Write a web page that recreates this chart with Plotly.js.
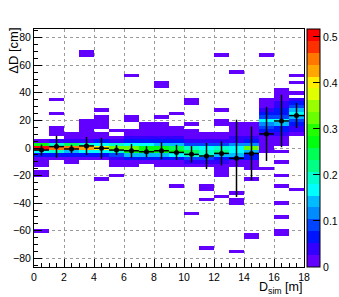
<!DOCTYPE html>
<html><head><meta charset="utf-8">
<script src="https://cdn.plot.ly/plotly-3.0.1.min.js"></script>
<style>html,body{margin:0;padding:0;background:#fff}</style>
</head><body><div id="chart" style="width:339px;height:297px"></div>
<script>
// x bins (D_sim, m): bin centers
const binCentersX = [0.5,1.5,2.5,3.5,4.5,5.5,6.5,7.5,8.5,9.5,10.5,11.5,12.5,13.5,14.5,15.5,16.5,17.5];
// 2D histogram cells as runs: column index, upper/lower bin centre (cm), normalised content
const tileCol = [
 0,0,0,0,0,0,0,0,
 1,1,1,1,1,1,1,1,1,
 2,2,2,2,2,2,2,
 3,3,3,3,3,3,3,3,
 4,4,4,4,4,4,4,4,4,4,
 5,5,5,5,5,5,5,5,5,5,
 6,6,6,6,6,6,6,6,6,6,6,
 7,7,7,7,7,7,7,7,7,
 8,8,8,8,8,8,8,8,8,8,8,
 9,9,9,9,9,9,9,9,9,9,9,
 10,10,10,10,10,10,10,10,10,10,10,10,
 11,11,11,11,11,11,11,11,11,11,11,11,
 12,12,12,12,12,12,12,12,12,12,12,12,12,
 13,13,13,13,13,13,13,13,13,13,13,13,13,
 14,14,14,14,14,14,14,14,14,14,
 15,15,15,15,15,15,15,15,15,15,15,15,
 16,16,16,16,16,16,16,16,16,16,16,16,16,16,16,16,
 17,17,17,17,17,17,17,17,17,17,17,17,17,17
];
const tileYHigh = [
 5,2.5,0,-2.5,-5,-7.5,-17.5,-60,
 35,25,15,5,2.5,0,-2.5,-5,-7.5,
 10,5,2.5,0,-2.5,-5,-7.5,
 70,20,5,2.5,0,-2.5,-5,-7.5,
 27.5,22.5,10,5,2.5,0,-2.5,-5,-7.5,-22.5,
 12.5,7.5,5,2.5,0,-2.5,-5,-7.5,-10,-20,
 52.5,22.5,12.5,7.5,5,2.5,0,-2.5,-5,-7.5,-10,
 17.5,7.5,5,2.5,0,-2.5,-5,-7.5,-10,
 47.5,22.5,17.5,7.5,5,2.5,0,-2.5,-5,-7.5,-10,
 25,15,7.5,5,2.5,0,-2.5,-5,-7.5,-10,-27.5,
 35,17.5,12.5,5,2.5,0,-2.5,-5,-7.5,-10,-12.5,-47.5,
 10,5,2.5,0,-2.5,-5,-7.5,-10,-12.5,-27.5,-37.5,-72.5,
 67.5,27.5,20,10,5,2.5,0,-2.5,-5,-7.5,-10,-12.5,-35,
 55,17.5,7.5,5,2.5,0,-2.5,-5,-7.5,-10,-32.5,-37.5,-75,
 17.5,7.5,5,2.5,0,-2.5,-5,-10,-22.5,-62.5,
 67.5,35,27.5,25,22.5,20,17.5,15,12.5,10,7.5,-15,
 42.5,32.5,27.5,22.5,20,17.5,15,10,7.5,-2.5,-10,-20,-27.5,-40,-50,-60,
 52.5,47.5,40,35,32.5,30,27.5,25,22.5,20,17.5,15,10,-30
];
const tileYLow = [
 5,2.5,0,-2.5,-5,-12.5,-20,-60,
 35,25,10,5,2.5,0,-2.5,-5,-7.5,
 7.5,5,2.5,0,-2.5,-5,-10,
 67.5,7.5,5,2.5,0,-2.5,-5,-7.5,
 27.5,15,7.5,5,2.5,0,-2.5,-5,-7.5,-22.5,
 12.5,7.5,5,2.5,0,-2.5,-5,-7.5,-12.5,-20,
 52.5,20,10,7.5,5,2.5,0,-2.5,-5,-7.5,-12.5,
 10,7.5,5,2.5,0,-2.5,-5,-7.5,-10,
 45,22.5,10,7.5,5,2.5,0,-2.5,-5,-7.5,-12.5,
 25,10,7.5,5,2.5,0,-2.5,-5,-7.5,-12.5,-27.5,
 32.5,17.5,7.5,5,2.5,0,-2.5,-5,-7.5,-10,-12.5,-47.5,
 7.5,5,2.5,0,-2.5,-5,-7.5,-10,-12.5,-30,-37.5,-72.5,
 67.5,27.5,17.5,7.5,5,2.5,0,-2.5,-5,-7.5,-10,-20,-35,
 55,10,7.5,5,2.5,0,-2.5,-5,-7.5,-12.5,-32.5,-40,-75,
 10,7.5,5,2.5,0,-2.5,-7.5,-15,-22.5,-65,
 67.5,30,27.5,25,22.5,20,17.5,15,12.5,10,-2.5,-15,
 35,30,25,22.5,20,17.5,12.5,10,2.5,-2.5,-10,-20,-27.5,-40,-50,-62.5,
 52.5,47.5,40,35,32.5,30,27.5,25,22.5,20,17.5,12.5,10,-30
];
const tileZ = [
 0.02,0.27,0.51,0.17,0.07,0.015,0.015,0.015,
 0.015,0.015,0.015,0.04,0.2,0.44,0.2,0.06,0.015,
 0.015,0.04,0.25,0.45,0.15,0.06,0.015,
 0.015,0.015,0.05,0.2,0.43,0.17,0.06,0.015,
 0.015,0.015,0.015,0.06,0.17,0.40,0.17,0.06,0.015,0.015,
 0.015,0.015,0.05,0.2,0.33,0.2,0.08,0.03,0.015,0.015,
 0.015,0.015,0.015,0.03,0.07,0.16,0.33,0.26,0.14,0.06,0.015,
 0.015,0.03,0.07,0.17,0.28,0.27,0.15,0.06,0.015,
 0.015,0.015,0.015,0.03,0.07,0.14,0.28,0.27,0.15,0.07,0.015,
 0.015,0.015,0.03,0.06,0.13,0.25,0.27,0.17,0.07,0.015,0.015,
 0.015,0.015,0.015,0.04,0.1,0.19,0.24,0.2,0.09,0.03,0.015,0.015,
 0.015,0.05,0.1,0.17,0.2,0.19,0.1,0.04,0.015,0.015,0.015,0.015,
 0.015,0.015,0.015,0.015,0.05,0.1,0.19,0.22,0.15,0.07,0.03,0.015,0.015,
 0.015,0.015,0.03,0.05,0.12,0.17,0.17,0.14,0.06,0.015,0.015,0.015,0.015,
 0.015,0.03,0.06,0.12,0.33,0.14,0.06,0.015,0.015,0.015,
 0.015,0.015,0.04,0.06,0.09,0.16,0.12,0.08,0.06,0.04,0.015,0.015,
 0.015,0.03,0.06,0.1,0.18,0.14,0.07,0.03,0.015,0.015,0.015,0.015,0.015,0.015,0.015,0.015,
 0.015,0.015,0.015,0.03,0.06,0.1,0.15,0.18,0.15,0.1,0.06,0.03,0.015,0.015
];
// profile (mean and error bar) per x bin
const profileMean = [-1.5,1.0,-0.7,1.5,-0.2,-1.5,-2.0,-2.7,-2.0,-3.2,-4.6,-5.8,-3.9,-7.5,-3.9,10.2,19.6,23.5];
const profileErr  = [4,8,3,6.5,7.6,3.6,5,4,6.2,5.5,6,9.5,8.8,28,19.5,19.6,19,9];
const zTickVals = [0,0.1,0.2,0.3,0.4,0.5];
const zTickText = ['0','0.1','0.2','0.3','0.4','0.5'];

// ROOT "pretty" palette, 20 contour levels
const levelColors = ['#6200ff','#3300ff','#0014ff','#0044ff','#008bff','#00bbff','#00fffc','#00ffcc','#00ff85','#00ff55',
  '#00ff0e','#22ff00','#69ff00','#99ff00','#e0ff00','#ffee00','#ffa700','#ff7700','#ff3000','#ff0000'];
const colorscale = [];
levelColors.forEach((c,k)=>{colorscale.push([k/20,c]);colorscale.push([(k+1)/20,c]);});

const yBinWidth = 2.5, yLowest = -85, nY = 69;
const yCenters = [];
for (let i=0;i<nY;i++) yCenters.push(yLowest + i*yBinWidth);
const z = yCenters.map(()=>binCentersX.map(()=>null));
for (let t=0;t<tileCol.length;t++){
  for (let y=tileYLow[t]; y<=tileYHigh[t]+1e-6; y+=yBinWidth){
    const r = Math.round((y - yLowest)/yBinWidth);
    z[r][tileCol[t]] = tileZ[t];
  }
}
const FONT = 'Liberation Sans, Arial, Helvetica, sans-serif';
const heat = {
  type:'heatmap', x:binCentersX, y:yCenters, z:z, zmin:0, zmax:0.517,
  colorscale:colorscale, hoverinfo:'skip', zsmooth:false,
  colorbar:{thickness:13, thicknessmode:'pixels', len:1, lenmode:'fraction',
    x:1.011, xanchor:'left', xpad:0, y:0.5, yanchor:'middle', ypad:0,
    outlinewidth:1, outlinecolor:'black', ticks:'inside', ticklen:7, tickcolor:'black',
    tickvals:zTickVals, ticktext:zTickText, tickfont:{family:FONT,size:10.5,color:'black'}}
};
const prof = {
  type:'scatter', mode:'markers', x:binCentersX, y:profileMean, hoverinfo:'skip',
  marker:{color:'black', size:5},
  error_x:{type:'constant', value:0.5, width:0, thickness:1.5, color:'black'},
  error_y:{type:'data', array:profileErr, width:0, thickness:1.5, color:'black'}
};
const axisCommon = {
  ticks:'inside', tickcolor:'black', showline:true, linecolor:'black', linewidth:1, mirror:true,
  showgrid:true, gridcolor:'#9a9a9a', griddash:'dot', gridwidth:1, zeroline:false,
  tickfont:{family:FONT,size:10.5,color:'black'}
};
const layout = {
  width:339, height:297, margin:{l:34,r:35,t:29,b:30,autoexpand:false},
  paper_bgcolor:'white', plot_bgcolor:'white', showlegend:false,
  xaxis:Object.assign({}, axisCommon, {range:[0,18], tick0:0, dtick:2, ticklen:8,
    minor:{dtick:0.5, ticks:'inside', ticklen:4, tickcolor:'black', showgrid:false}}),
  yaxis:Object.assign({}, axisCommon, {range:[-86.25,86.25], tick0:0, dtick:20, ticklen:8,
    minor:{dtick:5, ticks:'inside', ticklen:4, tickcolor:'black', showgrid:false}}),
  annotations:[
    {text:'D<sub>sim</sub> [m]', xref:'paper', yref:'paper', x:1.0, y:-0.046, xanchor:'right', yanchor:'top',
     showarrow:false, font:{family:FONT,size:12.5,color:'black'}},
    {text:'ΔD [cm]', xref:'paper', yref:'paper', x:-0.074, y:0.909, xanchor:'center', yanchor:'middle',
     textangle:-90, showarrow:false, font:{family:FONT,size:13,color:'black'}}
  ]
};
Plotly.newPlot('chart',[heat,prof],layout,{displayModeBar:false,staticPlot:true});
</script></body></html>
